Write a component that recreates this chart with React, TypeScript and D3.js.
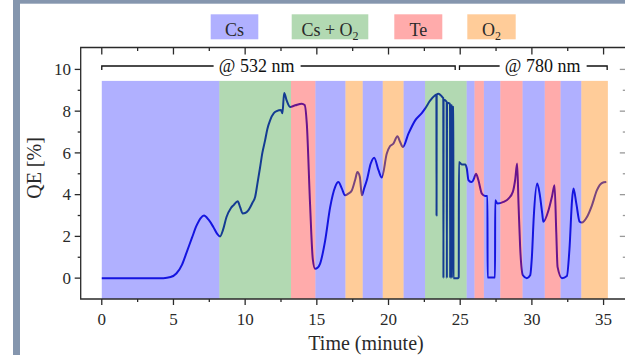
import React from 'react';
import * as d3 from 'd3';

const W = 625;
const H = 355;

// QE trace (minutes, %)
const time = [
  0, 4.3, 4.8, 5.2, 5.6, 5.9, 6.3, 6.6, 6.9, 7.13, 7.45, 7.78, 8.05, 8.25, 8.45, 8.7, 9.0, 9.2, 9.48, 9.65,
  9.83, 10.0, 10.22, 10.5, 10.7, 10.85, 11.04, 11.2, 11.39, 11.55, 11.74, 12.0, 12.2, 12.5, 12.6, 12.72, 12.9, 13.13, 13.5, 13.95,
  14.15, 14.3, 14.53, 14.72, 14.88, 15.05, 15.23, 15.58, 15.93, 16.28, 16.5, 16.74, 16.97, 17.2, 17.44, 17.67, 17.83, 18.0, 18.14, 18.3,
  18.49, 18.76, 19.0, 19.3, 19.53, 19.88, 20.1, 20.34, 20.62, 20.81, 21.0, 21.39, 21.86, 22.32, 22.55, 22.9, 23.25, 23.34, 23.35, 23.36,
  23.48, 23.72, 23.82, 23.83, 23.84, 24.06, 24.07, 24.08, 24.29, 24.3, 24.31, 24.41, 24.42, 24.43, 24.52, 24.53, 24.85, 24.9, 24.91, 25.11,
  25.35, 25.46, 25.58, 25.81, 25.95, 26.1, 26.27, 26.51, 26.74, 26.9, 26.91, 27.43, 27.44, 27.6, 28.02, 28.37, 28.67, 28.83, 28.97, 29.07,
  29.18, 29.37, 29.65, 29.88, 30.0, 30.13, 30.37, 30.54, 30.72, 30.8, 31.16, 31.4, 31.58, 31.7, 31.79, 32.1, 32.44, 32.63, 32.8, 32.9,
  33.1, 33.33, 33.49, 33.84, 34.19, 34.53, 34.89, 35.19,
];
const qe = [
  0, 0, 0.05, 0.22, 0.65, 1.2, 1.95, 2.5, 2.88, 3.0, 2.8, 2.45, 2.12, 2.0, 2.3, 2.93, 3.35, 3.5, 3.68, 3.4,
  3.1, 3.12, 3.25, 3.6, 3.9, 4.5, 5.3, 6.0, 6.6, 7.15, 7.56, 7.9, 8.0, 8.05, 7.9, 8.87, 8.5, 8.2, 8.28, 8.36,
  8.3, 7.4, 3.5, 0.9, 0.45, 0.5, 0.7, 1.8, 3.4, 4.37, 4.6, 4.3, 3.97, 4.05, 4.2, 4.7, 5.08, 4.85, 3.97, 4.3,
  4.7, 5.49, 5.77, 5.17, 4.82, 5.97, 6.32, 6.44, 6.8, 6.52, 6.28, 6.92, 7.56, 7.91, 8.12, 8.5, 8.76, 8.8, 3.0, 8.8,
  8.84, 8.7, 8.62, 0, 8.55, 8.45, 0, 8.4, 8.35, 0, 8.3, 8.28, 0, 8.22, 8.2, 0, 0, 0.05, 5.57, 5.45,
  5.45, 5.25, 4.69, 4.6, 4.75, 5.0, 4.69, 4.05, 3.94, 3.94, 0.03, 0.03, 3.73, 3.57, 3.65, 3.81, 4.13, 4.69, 5.49, 3.5,
  1.5, 0.14, 0, 0.14, 1.02, 2.93, 4.53, 4.05, 3.1, 2.7, 3.25, 3.9, 4.45, 2.2, 0.54, 0, 0.1, 1.5, 3.73, 4.29,
  3.57, 2.7, 2.66, 2.93, 3.49, 4.2, 4.56, 4.6,
];

// deposition steps shaded behind the trace (minutes)
const stepStart = [0, 8.2, 13.2, 14.9, 17.0, 18.2, 19.6, 21.05, 22.55, 25.45, 26.0, 26.65, 27.8, 29.35, 30.9, 32.0, 33.45];
const stepEnd = [8.2, 13.2, 14.9, 17.0, 18.2, 19.6, 21.05, 22.55, 25.45, 26.0, 26.65, 27.8, 29.35, 30.9, 32.0, 33.45, 35.3];
const stepKind = ['Cs', 'CsO2', 'Te', 'Cs', 'O2', 'Cs', 'O2', 'Cs', 'CsO2', 'Cs', 'Te', 'Cs', 'Te', 'Cs', 'Te', 'Cs', 'O2'];

const legendKinds = ['Cs', 'CsO2', 'Te', 'O2'];

// laser wavelength brackets
const bracketLabel = ['@ 532 nm', '@ 780 nm'];
const bracketFrom = [0, 24.95];
const bracketTo = [24.65, 35.25];
const bracketText = [10.8, 30.75];

const xTicks = [0, 5, 10, 15, 20, 25, 30, 35];
const yTicks = [0, 2, 4, 6, 8, 10];

const fill: Record<string, [string, number]> = {
  Cs: ['#0000ff', 0.31],
  CsO2: ['#008000', 0.3],
  Te: ['#ff0000', 0.33],
  O2: ['#ff8000', 0.4],
};

const font = '"Liberation Serif", "Times New Roman", serif';
const ink = '#2a2a2a';

export default function App() {
  // frame runs a bit past the right edge of the crop
  const x = d3.scaleLinear().domain([-1.47, 36.55]).range([80.7, 625.8]);
  const y = d3.scaleLinear().domain([-1, 11.05]).range([299, 47.5]);

  const pts: [number, number][] = time.map((t, i) => [t, qe[i]]);
  const line = d3.line<[number, number]>()
    .x(d => x(d[0]))
    .y(d => y(d[1]))
    .curve(d3.curveMonotoneX);

  const xMinor = d3.range(2.5, 36, 5);
  const yMinor = d3.range(1, 10, 2);
  const [left, right] = x.range();
  const [bottom, top] = y.range();

  // legend boxes
  const legendX = [210.7, 291.7, 394.3, 467.3];
  const legendW = [47.6, 76.6, 48, 48.4];

  const label = (k: string) => {
    if (k === 'CsO2') return (<>Cs + O<tspan dy={4} fontSize={12}>2</tspan></>);
    if (k === 'O2') return (<>O<tspan dy={4} fontSize={12}>2</tspan></>);
    return k;
  };

  return (
    <svg width={W} height={H} style={{ position: 'absolute', left: 0, top: 0, background: '#fff' }} fontFamily={font}>
      {/* page frame */}
      <rect x={13} y={0} width={7} height={H} fill="#8596ae" />
      <rect x={13} y={0} width={W - 13} height={3.7} fill="#8596ae" />

      {/* legend */}
      {legendKinds.map((k, i) => (
        <g key={k}>
          <rect x={legendX[i]} y={14.3} width={legendW[i]} height={25} fill={fill[k][0]} fillOpacity={fill[k][1]} />
          <text x={legendX[i] + legendW[i] / 2} y={35.5} textAnchor="middle" fontSize={18} fill={ink}>{label(k)}</text>
        </g>
      ))}

      {/* QE trace, underneath the translucent shading */}
      <path d={line(pts) || ''} fill="none" stroke="#1e1ed2" strokeWidth={2} strokeLinejoin="round" />

      {stepStart.map((s, i) => (
        <rect key={i} x={x(s)} y={y(9.45)} width={x(stepEnd[i]) - x(s)} height={bottom - y(9.45)}
          fill={fill[stepKind[i]][0]} fillOpacity={fill[stepKind[i]][1]} />
      ))}

      {/* wavelength brackets */}
      {bracketLabel.map((b, i) => {
        const y0 = 66;
        const tx = x(bracketText[i]);
        return (
          <g key={b} stroke="#111" strokeWidth={1.3} fill="none">
            <path d={`M${x(bracketFrom[i])},${y0 + 4}V${y0}H${tx - 43}M${tx + 44},${y0}H${x(bracketTo[i])}V${y0 + 4}`} />
            <text x={tx} y={72} textAnchor="middle" fontSize={18} fill="#111" stroke="none">{b}</text>
          </g>
        );
      })}

      {/* axes frame */}
      <g stroke={ink} strokeWidth={1.3} fill="none">
        <path d={`M${left},${top}V${bottom}H${right}V${top}Z`} />
        {xTicks.map(t => <line key={'xb' + t} x1={x(t)} x2={x(t)} y1={bottom} y2={bottom + 6} />)}
        {xMinor.map(t => <line key={'xbm' + t} x1={x(t)} x2={x(t)} y1={bottom} y2={bottom + 3} />)}
        {xTicks.map(t => <line key={'xt' + t} x1={x(t)} x2={x(t)} y1={top} y2={top + 7} />)}
        {xMinor.map(t => <line key={'xtm' + t} x1={x(t)} x2={x(t)} y1={top} y2={top + 3.5} />)}
        {yTicks.map(v => <line key={'yl' + v} x1={left - 6} x2={left} y1={y(v)} y2={y(v)} />)}
        {yMinor.map(v => <line key={'ylm' + v} x1={left - 3} x2={left} y1={y(v)} y2={y(v)} />)}
        {yTicks.map(v => <line key={'yr' + v} x1={right - 6} x2={right} y1={y(v)} y2={y(v)} stroke="#999" />)}
        {yMinor.map(v => <line key={'yrm' + v} x1={right - 3} x2={right} y1={y(v)} y2={y(v)} stroke="#999" />)}
      </g>

      {xTicks.map(t => (
        <text key={'xl' + t} x={x(t)} y={324.5} textAnchor="middle" fontSize={17} fill={ink}>{t}</text>
      ))}
      {yTicks.map(v => (
        <text key={'yl' + v} x={71} y={y(v)} dy="0.34em" textAnchor="end" fontSize={17} fill={ink}>{v}</text>
      ))}

      <text x={366} y={350} textAnchor="middle" fontSize={20} fill={ink}>Time (minute)</text>
      <text transform="translate(41,168) rotate(-90)" textAnchor="middle" fontSize={20} fill={ink}>QE [%]</text>
    </svg>
  );
}
